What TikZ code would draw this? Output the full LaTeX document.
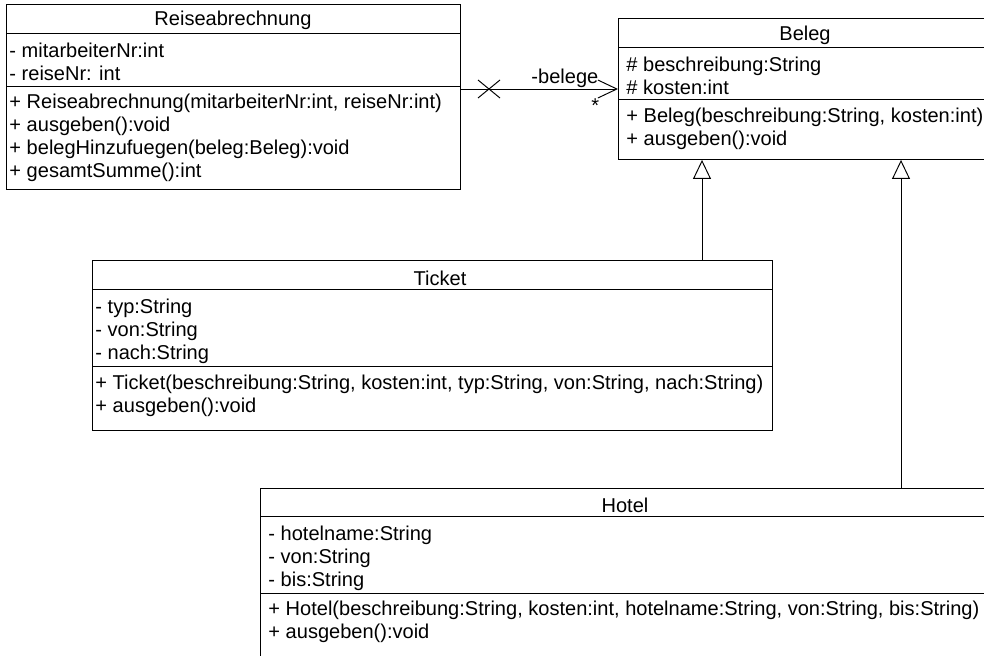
\documentclass[tikz,border=0pt]{standalone}
\usepackage{fontspec}
\setmainfont{Liberation Sans}
\usetikzlibrary{arrows.meta, positioning}
\newcommand{\umlfont}{\fontsize{11.4pt}{13pt}\selectfont}

\begin{document}
\begin{tikzpicture}[x=0.02cm, y=-0.02cm, line width=0.55pt,
    classbox/.style={draw, anchor=north west, inner sep=0pt},
    member/.style={anchor=base west, inner sep=0pt, font=\umlfont},
    classname/.style={anchor=base, inner sep=0pt, font=\umlfont},
    inherit/.style={-{Triangle[open, length=0.38cm, width=0.36cm]}},
    assoc/.style={-{Straight Barb[length=0.38cm, width=0.36cm]}}]
  \useasboundingbox (0,0) rectangle (984,656);
  \clip (0,0) rectangle (984,656);

  % Reiseabrechnung
  \node[classbox, minimum width=9.08cm, minimum height=3.7cm] (reise) at (6,4) {};
  \draw (reise.west |- 0,33) -- (reise.east |- 0,33);
  \draw (reise.west |- 0,86) -- (reise.east |- 0,86);
  \node[classname] (reiseName) at (233,25) {Reiseabrechnung};
  \node[member] (reiseAttrA) at (9,57) {- mitarbeiterNr:int};
  \node[member] (reiseAttrB) at (9,80) {- reiseNr: int};
  \node[member] (reiseOpA) at (9,108) {+ Reiseabrechnung(mitarbeiterNr:int, reiseNr:int)};
  \node[member] (reiseOpB) at (9,131) {+ ausgeben():void};
  \node[member] (reiseOpC) at (9,154) {+ belegHinzufuegen(beleg:Beleg):void};
  \node[member] (reiseOpD) at (9,177) {+ gesamtSumme():int};

  % Beleg
  \node[classbox, minimum width=7.6cm, minimum height=2.82cm] (beleg) at (618,18) {};
  \draw (beleg.west |- 0,47) -- (beleg.east |- 0,47);
  \draw (beleg.west |- 0,99) -- (beleg.east |- 0,99);
  \node[classname] (belegName) at (805,40) {Beleg};
  \node[member] (belegAttrA) at (626,71) {\# beschreibung:String};
  \node[member] (belegAttrB) at (626,94) {\# kosten:int};
  \node[member] (belegOpA) at (626,122) {+ Beleg(beschreibung:String, kosten:int)};
  \node[member] (belegOpB) at (626,145) {+ ausgeben():void};

  % Ticket
  \node[classbox, minimum width=13.6cm, minimum height=3.4cm] (ticket) at (92,260) {};
  \draw (ticket.west |- 0,289) -- (ticket.east |- 0,289);
  \draw (ticket.west |- 0,366) -- (ticket.east |- 0,366);
  \node[classname] (ticketName) at (440,285) {Ticket};
  \node[member] (ticketAttrA) at (95,313) {- typ:String};
  \node[member] (ticketAttrB) at (95,336) {- von:String};
  \node[member] (ticketAttrC) at (95,359) {- nach:String};
  \node[member] (ticketOpA) at (95,389) {+ Ticket(beschreibung:String, kosten:int, typ:String, von:String, nach:String)};
  \node[member] (ticketOpB) at (95,412) {+ ausgeben():void};

  % Hotel
  \node[classbox, minimum width=14.72cm, minimum height=3.6cm] (hotel) at (260,488) {};
  \draw (hotel.west |- 0,516) -- (hotel.east |- 0,516);
  \draw (hotel.west |- 0,593) -- (hotel.east |- 0,593);
  \node[classname] (hotelName) at (625,512) {Hotel};
  \node[member] (hotelAttrA) at (268,540) {- hotelname:String};
  \node[member] (hotelAttrB) at (268,563) {- von:String};
  \node[member] (hotelAttrC) at (268,586) {- bis:String};
  \node[member] (hotelOpA) at (268,615) {+ Hotel(beschreibung:String, kosten:int, hotelname:String, von:String, bis:String)};
  \node[member] (hotelOpB) at (268,638) {+ ausgeben():void};

  % Association
  \draw[assoc] (reise.east |- 0,89) -- (beleg.west |- 0,89);
  \draw (478,80) -- (500,98) (478,98) -- (500,80);
  \node[member] (roleName) at (531,83) {-belege};
  \node[member] (roleMult) at (591,112) {*};

  % Generalisation
  \draw[inherit] (702,0 |- ticket.north) -- (702,0 |- beleg.south);
  \draw[inherit] (901,0 |- hotel.north) -- (901,0 |- beleg.south);
\end{tikzpicture}
\end{document}
